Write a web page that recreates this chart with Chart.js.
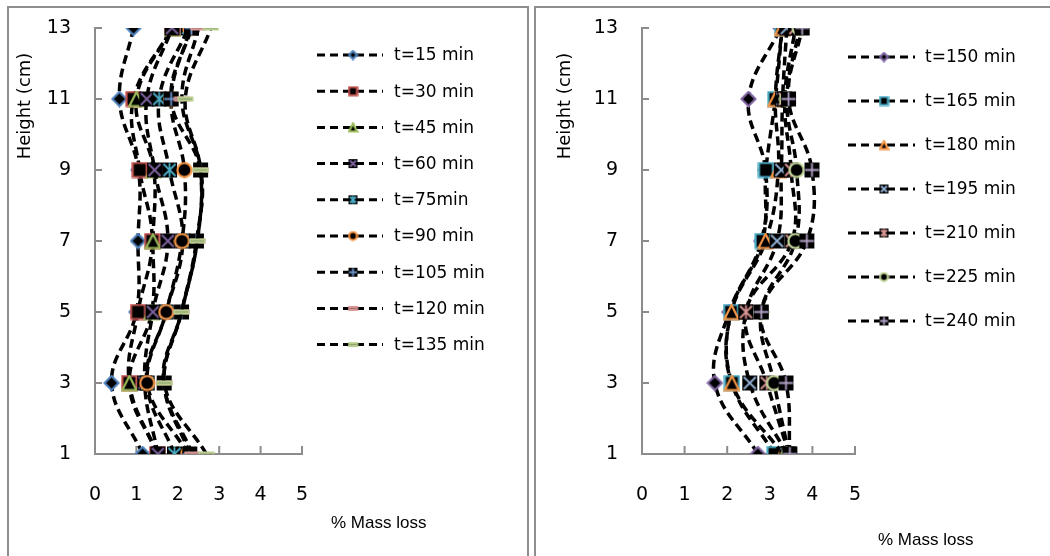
<!DOCTYPE html>
<html>
<head>
<meta charset="utf-8">
<script src="https://cdn.jsdelivr.net/npm/chart.js@4.4.1/dist/chart.umd.min.js"></script>
<style>
  body { margin: 0; background: #fff; width: 1050px; height: 556px; overflow: hidden; position: relative; }
  .panel { position: absolute; top: 6px; border: 2px solid #8e8e8e; border-bottom: none; height: 560px; overflow: hidden; }
  #p1 { left: 7px; width: 518px; }
  #p2 { left: 534px; width: 520px; }
  canvas { display: block; }
</style>
</head>
<body>
<div class="panel" id="p1"><canvas id="c1" width="518" height="548"></canvas></div>
<div class="panel" id="p2"><canvas id="c2" width="520" height="548"></canvas></div>
<script>
// heights along the column (y axis) and tick labels
const heights = [1, 3, 5, 7, 9, 11, 13];
const yTicks = [1, 3, 5, 7, 9, 11, 13];
const xTicks = [0, 1, 2, 3, 4, 5];

// left panel: % mass loss at each height
const leftLabels = ['t=15 min', 't=30 min', 't=45 min', 't=60 min', 't=75min', 't=90 min', 't=105 min', 't=120 min', 't=135 min'];
const t15  = [1.15, 0.40, 1.00, 1.04, 1.05, 0.59, 0.93];
const t30  = [1.50, 0.83, 1.04, 1.38, 1.08, 0.93, 1.86];
const t45  = [1.50, 0.83, 1.37, 1.40, 1.42, 1.00, 1.86];
const t60  = [1.52, 1.20, 1.40, 1.76, 1.44, 1.25, 1.86];
const t75  = [1.92, 1.26, 1.72, 2.12, 1.80, 1.55, 2.25];
const t90  = [2.25, 1.26, 1.72, 2.10, 2.16, 1.84, 2.30];
const t105 = [2.29, 1.67, 2.09, 2.45, 2.55, 1.84, 2.33];
const t120 = [2.35, 1.67, 2.09, 2.47, 2.55, 2.10, 2.50];
const t135 = [2.69, 1.67, 2.09, 2.47, 2.55, 2.18, 2.80];

// right panel
const rightLabels = ['t=150 min', 't=165 min', 't=180 min', 't=195 min', 't=210 min', 't=225 min', 't=240 min'];
const t150 = [2.72, 1.71, 2.05, 2.80, 2.90, 2.50, 3.25];
const t165 = [3.11, 2.11, 2.09, 2.83, 2.91, 3.13, 3.29];
const t180 = [3.30, 2.11, 2.10, 2.90, 3.20, 3.13, 3.29];
const t195 = [3.40, 2.53, 2.44, 3.17, 3.27, 3.30, 3.40];
const t210 = [3.45, 2.93, 2.44, 3.52, 3.50, 3.35, 3.60];
const t225 = [3.45, 3.10, 2.80, 3.60, 3.63, 3.40, 3.70];
const t240 = [3.47, 3.38, 2.80, 3.87, 3.99, 3.44, 3.76];

const leftSeries = [t15, t30, t45, t60, t75, t90, t105, t120, t135];
const rightSeries = [t150, t165, t180, t195, t210, t225, t240];

const leftMarks = [['diamond', '#4F81BD'], ['square', '#C0504D'], ['triangle', '#9BBB59'], ['x', '#8064A2'], ['star', '#4BACC6'],
                   ['circle', '#F79646'], ['plus', '#7094CD'], ['dash', '#D99694'], ['dash', '#B9CF8F']];
const rightMarks = [['diamond', '#8064A2'], ['square', '#4BACC6'], ['triangle', '#F79646'], ['x', '#95B3D7'], ['star', '#D99694'],
                    ['circle', '#C3D69B'], ['plus', '#B3A2C7']];

const FONT = 'DejaVu Sans';

// excel-like markers: black inside, coloured outline
function marker(kind, color, size) {
  const c = document.createElement('canvas');
  c.width = size; c.height = size;
  const g = c.getContext('2d');
  const m = size / 2, e = 1.5;
  g.lineWidth = 2.2; g.strokeStyle = color; g.fillStyle = '#000';
  g.beginPath();
  if (kind === 'diamond') {
    g.moveTo(m, e); g.lineTo(size - e, m); g.lineTo(m, size - e); g.lineTo(e, m); g.closePath();
    g.fill(); g.stroke();
  } else if (kind === 'square') {
    g.rect(e, e, size - 2 * e, size - 2 * e); g.fill(); g.stroke();
  } else if (kind === 'triangle') {
    g.moveTo(m, e); g.lineTo(size - e, size - e); g.lineTo(e, size - e); g.closePath(); g.fill(); g.stroke();
  } else if (kind === 'circle') {
    g.arc(m, m, m - e, 0, Math.PI * 2); g.fill(); g.stroke();
  } else if (kind === 'dash') {
    g.fillStyle = color;
    g.fillRect(0.5, m - 2.5, size - 1, 5);
    g.fillStyle = 'rgba(0,0,0,0.25)';
    g.fillRect(2, m - 0.5, size - 4, 1);
  } else {
    g.fillRect(1, 1, size - 2, size - 2);
    g.lineWidth = 1.8;
    g.beginPath();
    const a = 2.5, b = size - 2.5;
    if (kind === 'x' || kind === 'star') { g.moveTo(a, a); g.lineTo(b, b); g.moveTo(b, a); g.lineTo(a, b); }
    if (kind === 'star' || kind === 'plus') { g.moveTo(m, 1.5); g.lineTo(m, size - 1.5); }
    if (kind === 'plus') { g.moveTo(1.5, m); g.lineTo(size - 1.5, m); }
    g.stroke();
  }
  return c;
}

function buildDatasets(labels, series, marks) {
  const n = series.length;
  return series.map((vals, i) => ({
    label: labels[i],
    data: vals.map((v, k) => ({ x: v, y: heights[k] })),
    showLine: true,
    borderColor: '#000',
    borderWidth: 3.5,
    borderDash: [9, 5],
    tension: 0.4,
    pointStyle: marker(marks[i][0], marks[i][1], 17),
    legendMark: marker(marks[i][0], marks[i][1], 11),
    pointRadius: 8,
    order: n - i
  }));
}

// axis decorations, titles and legend drawn on the canvas
const decor = {
  id: 'decor',
  beforeDatasetsDraw(chart) {
    const ctx = chart.ctx, xs = chart.scales.x, ys = chart.scales.y;
    ctx.save();
    ctx.strokeStyle = '#8c8c8c';
    ctx.lineWidth = 2;
    ctx.beginPath();
    ys.ticks.forEach(t => {
      const y = ys.getPixelForValue(t.value);
      ctx.moveTo(xs.left, y); ctx.lineTo(xs.left + 7, y);
    });
    xs.ticks.forEach(t => {
      if (t.value === 0) return;
      const x = xs.getPixelForValue(t.value);
      ctx.moveTo(x, ys.bottom); ctx.lineTo(x, ys.bottom - 8);
    });
    ctx.stroke();
    ctx.restore();
  },
  afterDraw(chart, args, o) {
    const ctx = chart.ctx;
    ctx.save();
    ctx.fillStyle = '#000';
    // y title
    ctx.font = '18px "' + FONT + '"';
    ctx.textAlign = 'center';
    ctx.textBaseline = 'middle';
    ctx.translate(o.yTitle[0], o.yTitle[1]);
    ctx.rotate(-Math.PI / 2);
    ctx.fillText('Height (cm)', 0, 0);
    ctx.setTransform(1, 0, 0, 1, 0, 0);
    // x title
    ctx.font = '17px "Liberation Sans"';
    ctx.textAlign = 'left';
    ctx.fillText('% Mass loss', o.xTitle[0], o.xTitle[1]);
    // legend
    chart.data.datasets.forEach((ds, i) => {
      const y = o.legY0 + i * o.legStep;
      ctx.strokeStyle = '#000';
      ctx.lineWidth = 3;
      ctx.setLineDash([8, 5]);
      ctx.beginPath();
      ctx.moveTo(o.legX0, y); ctx.lineTo(o.legX1, y);
      ctx.stroke();
      ctx.setLineDash([]);
      const mk = ds.legendMark;
      ctx.drawImage(mk, o.legMid - mk.width / 2, y - mk.height / 2);
      ctx.font = '17px "' + FONT + '"';
      ctx.fillText(ds.label, o.legText, y + 1);
    });
    ctx.restore();
  }
};

function axisFont() { return { family: FONT, size: 19 }; }

function makeChart(id, labels, series, marks, yWidth, padRight, deco) {
  return new Chart(document.getElementById(id), {
    type: 'scatter',
    data: { datasets: buildDatasets(labels, series, marks) },
    plugins: [decor],
    options: {
      responsive: false,
      animation: false,
      devicePixelRatio: 1,
      layout: { padding: { top: 20, right: padRight, bottom: 0, left: 0 } },
      plugins: { legend: { display: false }, tooltip: { enabled: false }, decor: deco },
      scales: {
        x: {
          type: 'linear', min: 0, max: 5,
          afterBuildTicks: s => { s.ticks = xTicks.map(v => ({ value: v })); },
          ticks: { color: '#000', font: axisFont(), padding: 30 },
          grid: { display: true, drawOnChartArea: false, drawTicks: false },
          border: { color: '#8c8c8c', width: 2 },
          afterFit: s => { s.height = 102; }
        },
        y: {
          type: 'linear', min: 1, max: 13,
          afterBuildTicks: s => { s.ticks = yTicks.map(v => ({ value: v })); },
          ticks: { color: '#000', font: axisFont(), padding: 24 },
          grid: { display: true, drawOnChartArea: false, drawTicks: false },
          border: { color: '#8c8c8c', width: 2 },
          afterFit: s => { s.width = yWidth; s.paddingTop = 0; s.paddingBottom = 0; }
        }
      }
    }
  });
}

makeChart('c1', leftLabels, leftSeries, leftMarks, 86, 225,
  { yTitle: [16, 98], xTitle: [322, 515], legY0: 47, legStep: 36.2, legX0: 308, legX1: 374, legMid: 344, legText: 385 });
makeChart('c2', rightLabels, rightSeries, rightMarks, 106, 201,
  { yTitle: [29, 98], xTitle: [342, 532], legY0: 49, legStep: 44, legX0: 312, legX1: 379, legMid: 348, legText: 389 });
</script>
</body>
</html>
